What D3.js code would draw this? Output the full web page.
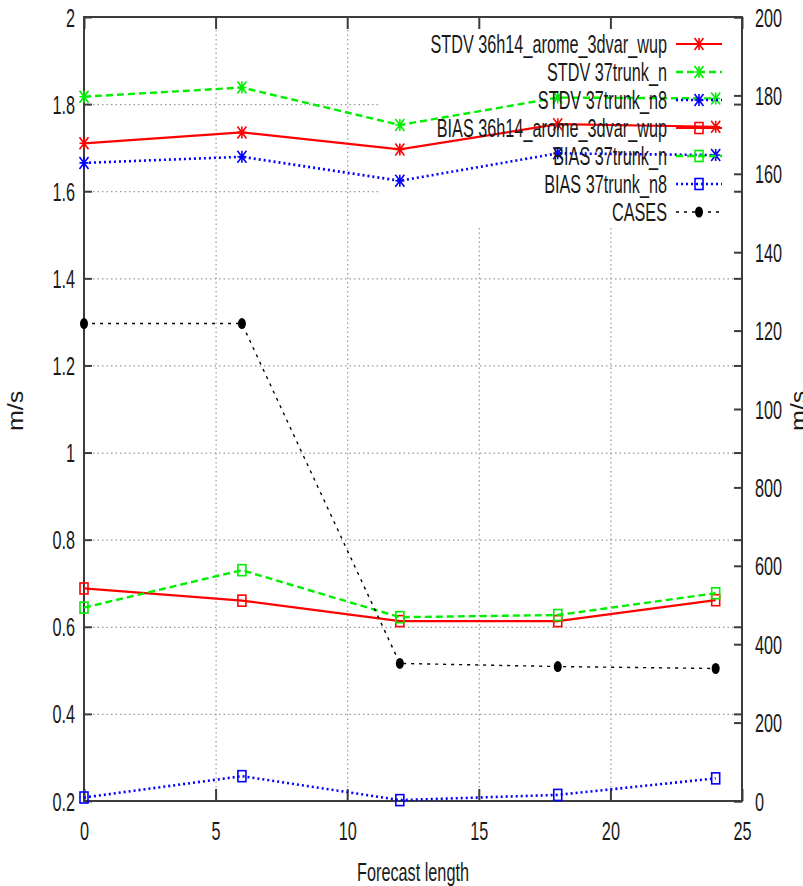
<!DOCTYPE html>
<html>
<head>
<meta charset="utf-8">
<script src="https://cdn.jsdelivr.net/npm/d3@7"></script>
<style>
  body { margin: 0; background: #fff; }
  svg { display: block; }
</style>
</head>
<body>
<svg id="chart" width="803" height="886"></svg>
<script>
// Forecast verification: wind speed STDV / BIAS (m/s) and number of cases
const forecastLength = [0, 6, 12, 18, 24];

const stdvArome   = [1.710, 1.735, 1.696, 1.754, 1.748];
const stdvTrunkN  = [1.817, 1.838, 1.752, 1.815, 1.813];
const stdvTrunkN8 = [1.665, 1.679, 1.624, 1.687, 1.683];
const biasArome   = [0.688, 0.660, 0.613, 0.613, 0.661];
const biasTrunkN  = [0.644, 0.730, 0.622, 0.627, 0.677];
const biasTrunkN8 = [0.208, 0.257, 0.202, 0.214, 0.252];
const cases       = [1218, 1218, 351, 343, 338];

const seriesLabels = [
  "STDV 36h14_arome_3dvar_wup",
  "STDV 37trunk_n",
  "STDV 37trunk_n8",
  "BIAS 36h14_arome_3dvar_wup",
  "BIAS 37trunk_n",
  "BIAS 37trunk_n8",
  "CASES"
];

const xTicks  = [0, 5, 10, 15, 20, 25];
const yTicks  = [0.2, 0.4, 0.6, 0.8, 1, 1.2, 1.4, 1.6, 1.8, 2];
const y2Ticks = [0, 200, 400, 600, 800, 1000, 1200, 1400, 1600, 1800, 2000];
// the right-hand label field only holds three characters
const y2TickLabels = ["0", "200", "400", "600", "800", "100", "120", "140", "160", "180", "200"];

const xTitle = "Forecast length";
const yTitle = "m/s";
const y2Title = "m/s";

// ---- layout & styles ----
const L = 84, R = 742, T = 17, B = 801;
const SX = 0.65;                 // narrow glyph width of the terminal font
const SXR = 0.85;                // rotated titles
const FONT = "'Liberation Sans', Arial, sans-serif";
const FS = 25;
const INK = "#1a1a1a";
const AXIS = "#3c3c3c";

const styles = [
  { color: "#ff0000", dash: null,  width: 2.2, marker: "star",   axis: "y"  },
  { color: "#00ee00", dash: "7,4", width: 2.4, marker: "star",   axis: "y"  },
  { color: "#0000ff", dash: "2,3", width: 2.6, marker: "star",   axis: "y"  },
  { color: "#ff0000", dash: null,  width: 2.2, marker: "square", axis: "y"  },
  { color: "#00ee00", dash: "7,4", width: 2.4, marker: "square", axis: "y"  },
  { color: "#0000ff", dash: "2,3", width: 2.6, marker: "square", axis: "y"  },
  { color: "#000000", dash: "3,5", width: 1.4, marker: "dot",    axis: "y2" }
];

const seriesValues = [stdvArome, stdvTrunkN, stdvTrunkN8, biasArome, biasTrunkN, biasTrunkN8, cases];
const series = seriesLabels.map((name, i) => ({
  name,
  points: forecastLength.map((f, j) => ({ f, v: seriesValues[i][j] })),
  ...styles[i]
}));

const x  = d3.scaleLinear().domain([0, 25]).range([L, R]);
const y  = d3.scaleLinear().domain([0.2, 2]).range([B, T]);
const y2 = d3.scaleLinear().domain([0, 2000]).range([B, T]);

const svg = d3.select("#chart");

// key box area where the grid is not drawn
const keyLeft = 378, keyBottom = 228;
svg.append("defs").append("clipPath").attr("id", "gridClip")
  .append("path")
  .attr("d", `M${L},${T}H${keyLeft}V${keyBottom}H${R}V${B}H${L}Z`);

// ---- grid ----
const grid = svg.append("g").attr("clip-path", "url(#gridClip)");
grid.append("g").attr("transform", `translate(${L},0)`)
  .call(d3.axisLeft(y).tickValues(yTicks).tickSize(-(R - L)).tickFormat(""));
grid.append("g").attr("transform", `translate(0,${B})`)
  .call(d3.axisBottom(x).tickValues(xTicks).tickSize(-(B - T)).tickFormat(""));
grid.selectAll(".domain").remove();
grid.selectAll("line").attr("stroke", "#9a9a9a").attr("stroke-width", 1.2)
  .attr("stroke-dasharray", "1.5,3");

// ---- border ----
svg.append("rect").attr("x", L).attr("y", T).attr("width", R - L).attr("height", B - T)
  .attr("fill", "none").attr("stroke", AXIS).attr("stroke-width", 2);

function styleAxis(g) {
  g.select(".domain").remove();
  g.selectAll("line").attr("stroke", AXIS).attr("stroke-width", 2);
  g.selectAll("text").attr("fill", INK).attr("font-family", FONT).attr("font-size", FS);
}

// left axis
const gl = svg.append("g").attr("transform", `translate(${L},0)`)
  .call(d3.axisLeft(y).tickValues(yTicks).tickSizeInner(-8).tickSizeOuter(0)
    .tickFormat(d3.format("~g")));
styleAxis(gl);
gl.selectAll("text").attr("x", null).attr("dy", null).attr("text-anchor", "end")
  .attr("transform", `translate(-9,9) scale(${SX},1)`);

// left ticks mirrored on the right border
const glm = svg.append("g").attr("transform", `translate(${R},0)`)
  .call(d3.axisRight(y).tickValues(yTicks).tickSizeInner(-8).tickSizeOuter(0).tickFormat(""));
styleAxis(glm);

// right axis (cases)
const gr = svg.append("g").attr("transform", `translate(${R},0)`)
  .call(d3.axisRight(y2).tickValues(y2Ticks).tickSizeInner(-8).tickSizeOuter(0)
    .tickFormat((d, i) => y2TickLabels[i]));
styleAxis(gr);
gr.selectAll("text").attr("x", null).attr("dy", null).attr("text-anchor", "start")
  .attr("transform", `translate(13,9) scale(${SX},1)`);

// bottom axis
const gb = svg.append("g").attr("transform", `translate(0,${B})`)
  .call(d3.axisBottom(x).tickValues(xTicks).tickSizeInner(-12).tickSizeOuter(0)
    .tickFormat(d3.format("d")));
styleAxis(gb);
gb.selectAll("text").attr("y", null).attr("dy", null).attr("text-anchor", "middle")
  .attr("transform", `translate(0,39) scale(${SX},1)`);

// top mirrored ticks
const gt = svg.append("g").attr("transform", `translate(0,${T})`)
  .call(d3.axisTop(x).tickValues(xTicks).tickSizeInner(-12).tickSizeOuter(0).tickFormat(""));
styleAxis(gt);

// ---- axis titles ----
function label(tx, ty, text, sx, rot) {
  svg.append("text")
    .attr("transform", `translate(${tx},${ty}) scale(${sx},1)` + (rot ? ` rotate(${rot})` : ""))
    .attr("text-anchor", "middle")
    .attr("font-family", FONT).attr("font-size", FS).attr("fill", INK)
    .text(text);
}
label((L + R) / 2, 881, xTitle, SX, 0);
label(23, 411, yTitle, SXR, -90);
label(806, 411, y2Title, SXR, -90);

// ---- markers ----
function drawMarker(g, kind, color, cx, cy) {
  if (kind === "star") {
    const w = 4.5, h = 6;
    g.append("path")
      .attr("d", `M${cx - w},${cy}H${cx + w}M${cx},${cy - h}V${cy + h}` +
                 `M${cx - w},${cy - h}L${cx + w},${cy + h}M${cx - w},${cy + h}L${cx + w},${cy - h}`)
      .attr("stroke", color).attr("stroke-width", 1.6).attr("fill", "none");
  } else if (kind === "square") {
    g.append("rect").attr("x", cx - 4).attr("y", cy - 5.5).attr("width", 8).attr("height", 11)
      .attr("stroke", color).attr("stroke-width", 1.6).attr("fill", "none");
  } else {
    g.append("ellipse").attr("cx", cx).attr("cy", cy).attr("rx", 4).attr("ry", 5.5)
      .attr("fill", color);
  }
}

// ---- key + series ----
const keyTextX = 667, keyLineX0 = 676, keyLineX1 = 722, keyRow0 = 44, keyStep = 28;

series.forEach((s, i) => {
  const g = svg.append("g");
  const ky = keyRow0 + i * keyStep;

  g.append("text")
    .attr("transform", `translate(${keyTextX},${ky + 9}) scale(${SX},1)`)
    .attr("text-anchor", "end")
    .attr("font-family", FONT).attr("font-size", FS).attr("fill", INK)
    .text(s.name);

  g.append("line").attr("x1", keyLineX0).attr("x2", keyLineX1).attr("y1", ky).attr("y2", ky)
    .attr("stroke", s.color).attr("stroke-width", s.width)
    .attr("stroke-dasharray", s.dash);
  drawMarker(g, s.marker, s.color, (keyLineX0 + keyLineX1) / 2, ky);

  const ys = s.axis === "y2" ? y2 : y;
  const line = d3.line().x(d => x(d.f)).y(d => ys(d.v));
  g.append("path").datum(s.points).attr("d", line)
    .attr("fill", "none").attr("stroke", s.color).attr("stroke-width", s.width)
    .attr("stroke-dasharray", s.dash);
  s.points.forEach(p => drawMarker(g, s.marker, s.color, x(p.f), ys(p.v)));
});
</script>
</body>
</html>
